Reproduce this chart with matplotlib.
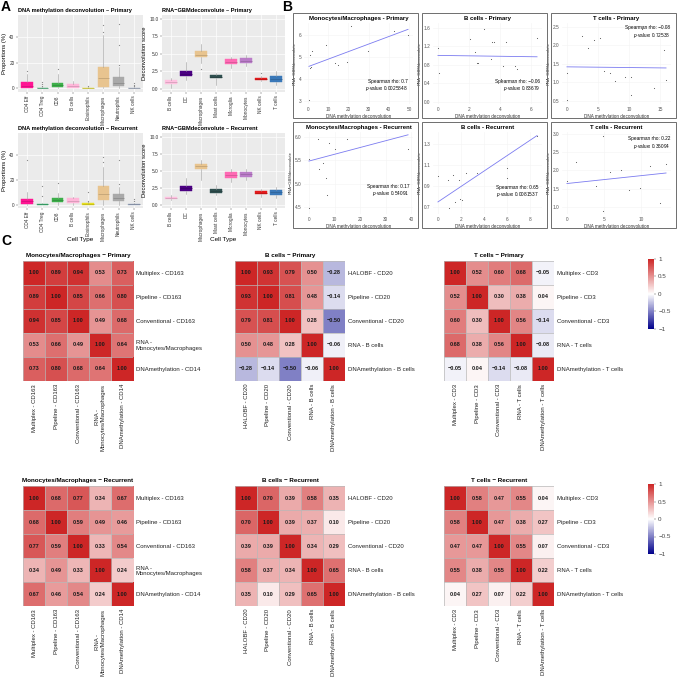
import numpy as np
import matplotlib
matplotlib.use("Agg")
import matplotlib.pyplot as plt
from matplotlib.colors import LinearSegmentedColormap, to_rgb
from matplotlib.patches import Rectangle
import matplotlib.cm as cm

plt.rcParams['font.family'] = ['Liberation Sans', 'DejaVu Sans']
plt.rcParams['mathtext.fontset'] = 'custom'
plt.rcParams['mathtext.rm'] = 'Liberation Sans'
plt.rcParams['mathtext.it'] = 'Liberation Sans:italic'

# ---------------- Panel A data ----------------
dna_types = ['CD4 Eff', 'CD4 Treg', 'CD8', 'B cells', 'Eosinophils', 'Macrophages', 'Neutrophils', 'NK cells']
dna_colors = ['#FF1493', '#3CB371', '#3DAF4A', '#FFB6D9', '#E8E020', '#E8C48F', '#A9A9A9', '#9BA8C0']

dna_pri_q1 = [0.3, 0.0, 0.8, 0.6, 0.0, 0.8, 1.8, 0.0]
dna_pri_med = [2.0, 0.1, 3.0, 2.2, 0.1, 7.9, 4.5, 0.1]
dna_pri_q3 = [5.2, 0.4, 4.0, 3.6, 0.4, 17.1, 8.7, 0.4]
dna_pri_lo = [0.0, 0.0, 0.0, 0.0, 0.0, 0.0, 0.0, 0.0]
dna_pri_hi = [11.0, 1.0, 11.0, 6.0, 1.0, 42.0, 17.0, 1.0]
dna_pri_out = [[14], [2, 3.5, 5], [15.5], [], [2], [44, 50], [18.4, 34, 50.6], [2, 3, 4.2]]

dna_rec_q1 = [0.2, 0.0, 2.1, 1.6, 0.0, 3.7, 2.9, 0.0]
dna_rec_med = [2.5, 0.1, 3.4, 2.9, 0.8, 8.1, 5.5, 0.1]
dna_rec_q3 = [4.7, 0.4, 5.5, 5.0, 1.6, 15.2, 8.1, 0.4]
dna_rec_lo = [0.0, 0.0, 0.0, 0.0, 0.0, 0.0, 0.0, 0.0]
dna_rec_hi = [10.0, 1.0, 9.0, 6.3, 2.5, 30.0, 14.0, 1.0]
dna_rec_out = [[36], [6.8, 14.7], [17.3], [], [2.9, 10.2], [34, 38.3], [16.5, 35.7], [2.9, 4.2]]

rna_types = ['B cells', 'DC', 'Macrophages', 'Mast cells', 'Microglia', 'Monocytes', 'NK cells', 'T cells']
rna_colors = ['#FFC0E0', '#4B0082', '#E8C48F', '#2F4F4F', '#FF69B4', '#BA7CC8', '#E41A1C', '#3A78B8']

rna_pri_q1 = [0.71, 1.77, 4.50, 1.53, 3.58, 3.68, 1.29, 1.05]
rna_pri_med = [1.00, 2.10, 4.90, 1.75, 3.90, 4.00, 1.45, 1.40]
rna_pri_q3 = [1.29, 2.58, 5.35, 2.00, 4.26, 4.40, 1.62, 1.90]
rna_pri_lo = [0.10, 1.20, 3.70, 0.50, 3.00, 3.20, 1.10, 0.60]
rna_pri_hi = [1.60, 3.80, 6.40, 2.30, 4.60, 4.80, 1.90, 2.50]
rna_pri_out = [[], [], [2.9], [], [], [], [2.25], []]

rna_rec_q1 = [0.82, 2.10, 5.20, 1.80, 3.95, 4.10, 1.55, 1.45]
rna_rec_med = [1.00, 2.45, 5.70, 2.00, 4.40, 4.50, 1.75, 1.85]
rna_rec_q3 = [1.15, 2.74, 6.00, 2.27, 4.80, 4.90, 2.00, 2.25]
rna_rec_lo = [0.70, 1.60, 3.60, 1.40, 3.40, 3.60, 1.20, 1.00]
rna_rec_hi = [1.40, 3.90, 6.60, 2.90, 5.20, 5.30, 2.30, 2.70]
rna_rec_out = [[], [], [], [], [], [], [], []]

# ---------------- Panel B data ----------------
b1_x = [0.5, 0.9, 1.3, 2.2, 1.0, 8.8, 13.3, 15.0, 19.3, 21.3, 29.6, 42.8, 49.5]
b1_y = [3.03, 5.10, 4.55, 5.25, 4.50, 5.55, 4.70, 4.65, 4.78, 6.40, 5.25, 6.20, 6.00]
b1_fit = [4.57, 6.26]
b2_x = [0.0, 0.05, 2.06, 2.4, 2.5, 2.6, 2.95, 3.4, 3.5, 3.6, 4.1, 4.2, 4.4, 5.0, 5.1, 6.4]
b2_y = [1.17, 0.61, 1.35, 1.07, 0.83, 0.83, 1.58, 0.92, 1.28, 1.28, 0.50, 0.77, 1.28, 0.77, 0.70, 1.38]
b2_fit = [1.00, 0.97]
b3_x = [0.0, 0.0, 2.5, 3.4, 4.4, 5.3, 6.0, 6.9, 7.8, 9.4, 10.3, 10.4, 12.1, 14.0, 15.6, 16.0]
b3_y = [1.26, 0.52, 2.24, 1.94, 2.13, 2.19, 1.32, 1.26, 1.03, 1.14, 0.65, 1.14, 2.43, 0.84, 1.87, 1.07]
b3_fit = [1.42, 1.39]
b4_x = [0.0, 0.2, 3.7, 4.0, 5.3, 6.7, 7.0, 8.0, 10.0, 14.7, 38.7]
b4_y = [5.52, 4.48, 5.94, 5.31, 5.44, 5.11, 4.75, 5.87, 5.74, 5.96, 5.74]
b4_fit = [5.48, 6.04]
b5_x = [0.0, 0.9, 1.0, 1.3, 1.5, 1.8, 1.9, 2.1, 2.4, 3.4, 5.95, 5.95, 8.6]
b5_y = [0.995, 0.95, 0.69, 1.00, 0.74, 0.95, 0.77, 0.76, 1.02, 1.02, 1.07, 0.97, 1.37]
b5_fit = [0.745, 1.376]
b6_x = [0.0, 1.16, 3.9, 4.9, 4.9, 5.8, 7.3, 8.4, 9.9, 11.2, 12.6, 13.4]
b6_y = [1.70, 2.23, 1.56, 0.89, 2.95, 1.96, 2.00, 1.45, 1.53, 2.11, 1.10, 2.18]
b6_fit = [1.64, 1.93]

b_titles = ['Monocytes/Macrophages - Primary', 'B cells - Primary', 'T cells - Primary',
            'Monocytes/Macrophages - Recurrent', 'B cells - Recurrent', 'T cells - Recurrent']
b_rho = ['0.7', '\u22120.06', '\u22120.08', '0.17', '0.65', '0.22']
b_pval = ['0.0025848', '0.83679', '0.72538', '0.54091', '0.0081537', '0.36094']
b_xticks = [[0, 10, 20, 30, 40, 50], [0, 2, 4, 6], [0, 5, 10, 15],
            [0, 10, 20, 30, 40], [0, 2, 4, 6, 8], [0, 5, 10]]
b_yticks = [[3, 4, 5, 6], [0.0, 0.4, 0.8, 1.2, 1.6], [0.5, 1.0, 1.5, 2.0, 2.5],
            [4.5, 5.0, 5.5, 6.0], [0.7, 0.9, 1.1, 1.3], [1.0, 1.5, 2.0, 2.5, 3.0]]
b_ylims = [(2.85, 6.55), (-0.05, 1.7), (0.42, 2.6), (4.35, 6.1), (0.63, 1.41), (0.8, 3.06)]

# ---------------- Panel C data ----------------
mono_rows = ['Multiplex - CD163', 'Pipeline - CD163', 'Conventional - CD163',
             'RNA -\nMonocytes/Macrophages', 'DNAmethylation - CD14']
bcell_rows = ['HALOBF - CD20', 'Pipeline - CD20', 'Conventional - CD20', 'RNA - B cells', 'DNAmethylation - B cells']
tcell_rows = ['Multiplex - CD3', 'Pipeline - CD3', 'Conventional - CD3', 'RNA - T cells', 'DNAmethylation - T cells']

mono_pri = [[1.00, 0.89, 0.94, 0.53, 0.73],
            [0.89, 1.00, 0.85, 0.66, 0.80],
            [0.94, 0.85, 1.00, 0.49, 0.68],
            [0.53, 0.66, 0.49, 1.00, 0.64],
            [0.73, 0.80, 0.68, 0.64, 1.00]]
bcell_pri = [[1.00, 0.93, 0.79, 0.50, -0.28],
             [0.93, 1.00, 0.81, 0.48, -0.14],
             [0.79, 0.81, 1.00, 0.28, -0.50],
             [0.50, 0.48, 0.28, 1.00, -0.06],
             [-0.28, -0.14, -0.50, -0.06, 1.00]]
tcell_pri = [[1.00, 0.52, 0.60, 0.68, -0.05],
             [0.52, 1.00, 0.30, 0.38, 0.04],
             [0.60, 0.30, 1.00, 0.56, -0.14],
             [0.68, 0.38, 0.56, 1.00, -0.08],
             [-0.05, 0.04, -0.14, -0.08, 1.00]]
mono_rec = [[1.00, 0.68, 0.77, 0.34, 0.67],
            [0.68, 1.00, 0.59, 0.49, 0.46],
            [0.77, 0.59, 1.00, 0.33, 0.54],
            [0.34, 0.49, 0.33, 1.00, 0.24],
            [0.67, 0.46, 0.54, 0.24, 1.00]]
bcell_rec = [[1.00, 0.70, 0.39, 0.58, 0.35],
             [0.70, 1.00, 0.39, 0.37, 0.10],
             [0.39, 0.39, 1.00, 0.34, 0.29],
             [0.58, 0.37, 0.34, 1.00, 0.65],
             [0.35, 0.10, 0.29, 0.65, 1.00]]
tcell_rec = [[1.00, 0.58, 0.47, 0.55, 0.04],
             [0.58, 1.00, 0.47, 0.38, 0.27],
             [0.47, 0.47, 1.00, 0.55, 0.07],
             [0.55, 0.38, 0.55, 1.00, 0.22],
             [0.04, 0.27, 0.07, 0.22, 1.00]]
cbar_ticks = [-1, -0.5, 0, 0.5, 1]
cbar_labels = ['\u22121', '\u22120.5', '0', '0.5', '1']

# ---------------- figure ----------------
W, H = 677, 685
fig = plt.figure(figsize=(W / 100, H / 100), dpi=100)


def add_ax(x0, y0, x1, y1):
    return fig.add_axes([x0 / W, 1 - y1 / H, (x1 - x0) / W, (y1 - y0) / H])


def darker(c, f=0.25):
    r, g, b = to_rgb(c)
    return (r * (1 - f), g * (1 - f), b * (1 - f))


def box_panel(rect, cats, colors, q1, med, q3, lo, hi, outs, ylim, yticks, yticklabels, title, ylabel):
    ax = add_ax(*rect)
    ax.set_facecolor('#EBEBEB')
    stats = []
    for i in range(len(cats)):
        stats.append(dict(q1=q1[i], med=med[i], q3=q3[i], whislo=lo[i], whishi=hi[i],
                          fliers=np.array(outs[i], dtype=float), label=cats[i]))
    bp = ax.bxp(stats, positions=np.arange(1, len(cats) + 1), widths=0.75, patch_artist=True,
                showfliers=True,
                whiskerprops=dict(color='#9A9A9A', lw=0.4),
                capprops=dict(lw=0),
                medianprops=dict(lw=0.5),
                flierprops=dict(marker='o', ms=0.9, mfc='#8A8A8A', mec='none'))
    for patch, med_line, c in zip(bp['boxes'], bp['medians'], colors):
        patch.set_facecolor(c)
        patch.set_edgecolor(c)
        patch.set_linewidth(0.3)
        med_line.set_color(darker(c, 0.2))
    ax.set_ylim(*ylim)
    ax.set_xlim(0.4, len(cats) + 0.6)
    ax.set_yticks(yticks)
    ax.set_yticklabels(yticklabels)
    ax.set_xticks(np.arange(1, len(cats) + 1))
    ax.set_xticklabels(cats, rotation=90)
    ax.grid(color='white', lw=0.5)
    ax.set_axisbelow(True)
    for s in ax.spines.values():
        s.set_visible(False)
    ax.tick_params(length=1.5, width=0.3, color='#444444', labelsize=3.4, pad=1, labelcolor='#333333')
    ax.set_title(title, loc='left', fontsize=4.1, fontweight='bold', pad=2.5)
    ax.set_ylabel(ylabel, fontsize=4.2, labelpad=1.5)
    return ax


dna_ylim = (-2.8, 57.5)
dna_ticks = [0, 20, 40]
rna_ylim = (-0.45, 10.55)
rna_ticks = [0.0, 2.5, 5.0, 7.5, 10.0]

box_panel((18, 15, 143, 92), dna_types, dna_colors, dna_pri_q1, dna_pri_med, dna_pri_q3,
          dna_pri_lo, dna_pri_hi, dna_pri_out, dna_ylim, dna_ticks, ['0', '20', '40'],
          'DNA methylation deconvolution \u2013 Primary', 'Proportions (%)')
box_panel((162, 15, 285, 92), rna_types, rna_colors, rna_pri_q1, rna_pri_med, rna_pri_q3,
          rna_pri_lo, rna_pri_hi, rna_pri_out, rna_ylim, rna_ticks, ['0.0', '2.5', '5.0', '7.5', '10.0'],
          'RNA\u2212GBMdeconvolute \u2013 Primary', 'Deconvolution score')
box_panel((18, 133, 143, 208), dna_types, dna_colors, dna_rec_q1, dna_rec_med, dna_rec_q3,
          dna_rec_lo, dna_rec_hi, dna_rec_out, dna_ylim, dna_ticks, ['0', '20', '40'],
          'DNA methylation deconvolution \u2013 Recurrent', 'Proportions (%)')
box_panel((162, 133, 285, 208), rna_types, rna_colors, rna_rec_q1, rna_rec_med, rna_rec_q3,
          rna_rec_lo, rna_rec_hi, rna_rec_out, rna_ylim, rna_ticks, ['0.0', '2.5', '5.0', '7.5', '10.0'],
          'RNA\u2212GBMdeconvolute \u2013 Recurrent', 'Deconvolution score')
fig.text(80 / W, 1 - 240 / H, 'Cell Type', ha='center', va='center', fontsize=4.6)
fig.text(223 / W, 1 - 240 / H, 'Cell Type', ha='center', va='center', fontsize=4.6)

# ---------------- Panel B ----------------
b_boxes = [(293, 13, 418, 118), (422, 13, 547, 118), (551, 13, 676, 118),
           (293, 122, 418, 228), (422, 122, 547, 228), (551, 122, 676, 228)]
b_xs = [b1_x, b2_x, b3_x, b4_x, b5_x, b6_x]
b_ys = [b1_y, b2_y, b3_y, b4_y, b5_y, b6_y]
b_fits = [b1_fit, b2_fit, b3_fit, b4_fit, b5_fit, b6_fit]
b_ann = [(0.95, 0.13, 'bottom'), (0.98, 0.13, 'bottom'), (0.99, 0.97, 'top'),
         (0.97, 0.19, 'bottom'), (0.97, 0.18, 'bottom'), (0.99, 0.95, 'top')]

for k in range(6):
    bx0, by0, bx1, by1 = b_boxes[k]
    fig.patches.append(Rectangle((bx0 / W, 1 - by1 / H), (bx1 - bx0) / W, (by1 - by0) / H,
                                 transform=fig.transFigure, fill=False, ec='#6E6E6E', lw=0.7))
    ax = add_ax(bx0 + 11, by0 + 10, bx1 - 5, by1 - 14)
    xs = np.array(b_xs[k])
    ys = np.array(b_ys[k])
    ax.scatter(xs, ys, s=0.6, c='#555555', linewidths=0)
    ax.plot([xs.min(), xs.max()], b_fits[k], color='#7B7BF0', lw=0.6)
    rng = xs.max() - xs.min()
    ax.set_xlim(xs.min() - 0.05 * rng, xs.max() + 0.05 * rng)
    ax.set_ylim(*b_ylims[k])
    ax.set_xticks(b_xticks[k])
    ax.set_yticks(b_yticks[k])
    ax.grid(color='#F3F3F3', lw=0.4)
    ax.set_axisbelow(True)
    for s in ax.spines.values():
        s.set_visible(False)
    ax.tick_params(length=0, labelsize=3.4, pad=2, labelcolor='#555555')
    ax.set_title(b_titles[k], fontsize=4.3, fontweight='bold', pad=2.5)
    ax.set_xlabel('DNA methylation deconvolution', fontsize=3.3, labelpad=1.5, color='#333333')
    ax.set_ylabel('RNA\u2212GBMdeconvolute', fontsize=3.0, labelpad=1.5, color='#333333')
    ax_, ay_, va_ = b_ann[k]
    ax.text(ax_, ay_, 'Spearman rho: ' + b_rho[k] + '\n$p$-value: ' + b_pval[k],
            transform=ax.transAxes, ha='right', va=va_, fontsize=3.4, linespacing=1.1, multialignment='right')

# ---------------- Panel C ----------------
cmap = LinearSegmentedColormap.from_list('corr', ['#00008B', '#FFFFFF', '#CD2626'])


def heatmap(x0, y0, M, rows, title):
    cw, ch = 22.0, 24.0
    ax = add_ax(x0, y0, x0 + 5 * cw, y0 + 5 * ch)
    M = np.array(M)
    ax.imshow(M, cmap=cmap, vmin=-1, vmax=1, aspect='auto', extent=(-0.5, 4.5, 4.5, -0.5))
    for i in range(5):
        for j in range(5):
            ax.text(j, i, f"{M[i, j]:.2f}".replace('-', '\u2212'), ha='center', va='center',
                    fontsize=4.0, fontweight='bold', color='#1A1A1A')
    for k in range(6):
        ax.axhline(k - 0.5, color='#B8B8B8', lw=0.5)
        ax.axvline(k - 0.5, color='#B8B8B8', lw=0.5)
    ax.set_xlim(-0.5, 4.5)
    ax.set_ylim(4.5, -0.5)
    ax.set_xticks(range(5))
    ax.set_xticklabels(rows, rotation=90, fontsize=4.3, color='#222222')
    ax.set_yticks(range(5))
    ax.yaxis.tick_right()
    ax.set_yticklabels(rows, fontsize=4.3, color='#222222')
    ax.tick_params(length=0, pad=2)
    for s in ax.spines.values():
        s.set_visible(False)
    ax.set_title(title, fontsize=4.5, fontweight='bold', pad=3)
    return ax


def colorbar(x0, y0):
    cax = add_ax(x0, y0, x0 + 6, y0 + 70)
    sm = cm.ScalarMappable(cmap=cmap, norm=plt.Normalize(-1, 1))
    cb = fig.colorbar(sm, cax=cax, ticks=cbar_ticks)
    cb.ax.set_yticklabels(cbar_labels)
    cb.outline.set_visible(False)
    cb.ax.tick_params(length=1.5, width=0.3, labelsize=4.5, pad=1.5, colors='#444444')


top_y = 261
bot_y = 486
heatmap(23, top_y, mono_pri, mono_rows, 'Monocytes/Macrophages \u2212 Primary')
heatmap(235, top_y, bcell_pri, bcell_rows, 'B cells \u2212 Primary')
heatmap(444, top_y, tcell_pri, tcell_rows, 'T cells \u2212 Primary')
heatmap(23, bot_y, mono_rec, mono_rows, 'Monocytes/Macrophages \u2212 Recurrent')
heatmap(235, bot_y, bcell_rec, bcell_rows, 'B cells \u2212 Recurrent')
heatmap(444, bot_y, tcell_rec, tcell_rows, 'T cells \u2212 Recurrent')
colorbar(648, top_y - 2)
colorbar(648, bot_y - 2)

# panel letters
fig.text(1 / W, 1 - 0 / H, 'A', fontsize=10, fontweight='bold', va='top', ha='left')
fig.text(282 / W, 1 - 0 / H, 'B', fontsize=10, fontweight='bold', va='top', ha='left')
fig.text(1 / W, 1 - 234 / H, 'C', fontsize=10, fontweight='bold', va='top', ha='left')

fig.savefig('out.png', dpi=100)
